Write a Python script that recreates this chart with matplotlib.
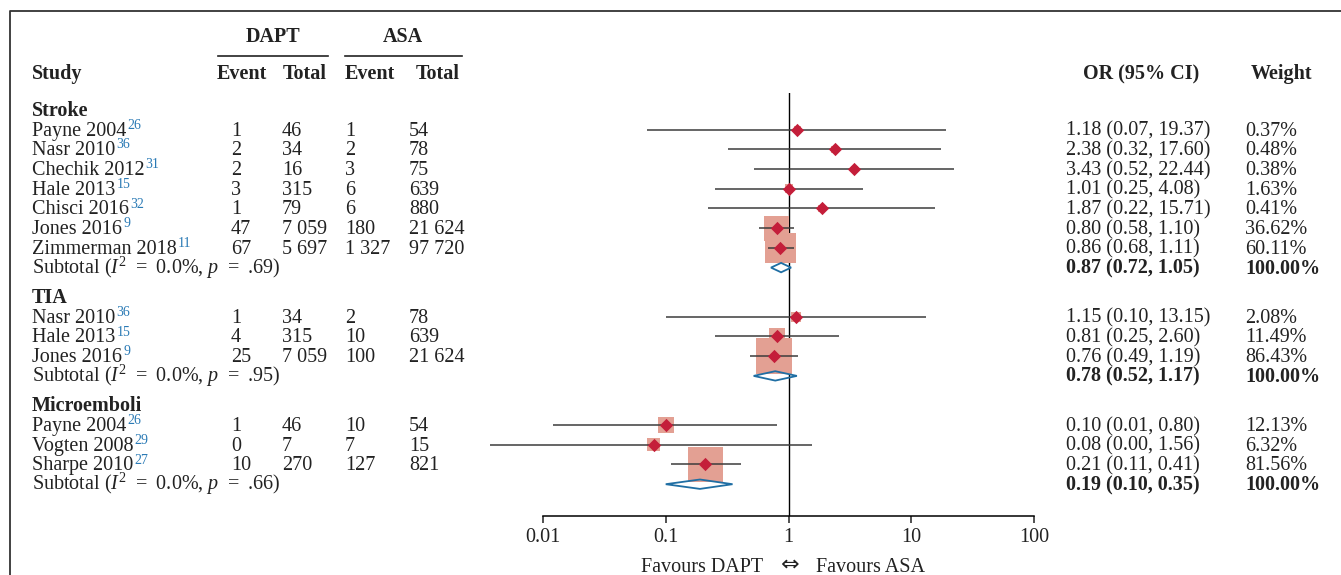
import matplotlib.pyplot as plt
from matplotlib.ticker import NullLocator

plt.rcParams['font.family'] = ['Liberation Serif', 'DejaVu Serif']
plt.rcParams['mathtext.fontset'] = 'custom'
plt.rcParams['mathtext.rm'] = 'Liberation Serif'
plt.rcParams['mathtext.it'] = 'Liberation Serif:italic'
plt.rcParams['mathtext.bf'] = 'Liberation Serif:bold'

# Dane z wykresu
groups = ['Stroke', 'TIA', 'Microemboli']
study_group = [0, 0, 0, 0, 0, 0, 0, 1, 1, 1, 2, 2, 2]
study_names = ['Payne 2004', 'Nasr 2010', 'Chechik 2012', 'Hale 2013', 'Chisci 2016',
               'Jones 2016', 'Zimmerman 2018', 'Nasr 2010', 'Hale 2013', 'Jones 2016',
               'Payne 2004', 'Vogten 2008', 'Sharpe 2010']
study_refs = ['26', '36', '31', '15', '32', '9', '11', '36', '15', '9', '26', '29', '27']
dapt_event = ['1', '2', '2', '3', '1', '47', '67', '1', '4', '25', '1', '0', '10']
dapt_total = ['46', '34', '16', '315', '79', '7 059', '5 697', '34', '315', '7 059',
              '46', '7', '270']
asa_event = ['1', '2', '3', '6', '6', '180', '1 327', '2', '10', '100', '10', '7', '127']
asa_total = ['54', '78', '75', '639', '880', '21 624', '97 720', '78', '639', '21 624',
             '54', '15', '821']
odds = [1.18, 2.38, 3.43, 1.01, 1.87, 0.80, 0.86, 1.15, 0.81, 0.76, 0.10, 0.08, 0.21]
ci_low = [0.07, 0.32, 0.52, 0.25, 0.22, 0.58, 0.68, 0.10, 0.25, 0.49, 0.012, 0.0037, 0.11]
ci_high = [19.37, 17.60, 22.44, 4.08, 15.71, 1.10, 1.11, 13.15, 2.60, 1.19, 0.80, 1.56, 0.41]
weights = [0.37, 0.48, 0.38, 1.63, 0.41, 36.62, 60.11, 2.08, 11.49, 86.43, 12.13, 6.32, 81.56]

sub_i2 = ['0.0%', '0.0%', '0.0%']
sub_p = ['.69', '.95', '.66']
sub_or = [0.87, 0.78, 0.19]
sub_low = [0.72, 0.52, 0.10]
sub_high = [1.05, 1.17, 0.35]

xticks = [0.01, 0.1, 1, 10, 100]
xtick_labels = ['0.01', '0.1', '1', '10', '100']

# Kolory
ci_color = '#3c3c3c'
box_color = '#e3a093'
point_color = '#c41e3a'
pool_color = '#1f6ea3'
ref_color = '#2a7ab5'
txt_color = '#222222'

W, H = 1341, 575
fig = plt.figure(figsize=(W / 100, H / 100), dpi=100)

# Oś tekstowa w pikselach
ax_t = fig.add_axes([0, 0, 1, 1])
ax_t.set_xlim(0, W)
ax_t.set_ylim(H, 0)
ax_t.axis('off')

# Oś wykresu (log)
ax = fig.add_axes([543 / W, (H - 516) / H, (1034 - 543) / W, (516 - 93) / H])
ax.set_xscale('log')
ax.set_xlim(0.01, 100)
ax.set_ylim(516, 93)
ax.patch.set_alpha(0)
for side in ['top', 'left', 'right']:
    ax.spines[side].set_visible(False)
ax.spines['bottom'].set_linewidth(1.1)
ax.set_xticks(xticks)
ax.set_xticklabels(xtick_labels)
ax.xaxis.set_minor_locator(NullLocator())
ax.set_yticks([])
ax.tick_params(axis='x', length=5, width=1.1, pad=4, labelsize=14.5, colors=txt_color)
ax.axvline(1, color='black', lw=1.0, zorder=0.5)

# Układ wierszy
step, gap = 19.7, 29.5
y = 110
head_y, row_y, sub_y = [], [], []
for g in range(len(groups)):
    head_y.append(y)
    for k in range(len(study_group)):
        if study_group[k] == g:
            y += step
            row_y.append(y)
    y += step
    sub_y.append(y)
    y += gap

fs = 14.5
base = 6  # przesunięcie linii bazowej względem środka wiersza

# Nagłówki
ax_t.text(273, 42, 'DAPT', ha='center', va='baseline', fontsize=fs, fontweight='bold', color=txt_color)
ax_t.text(403, 42, 'ASA', ha='center', va='baseline', fontsize=fs, fontweight='bold', color=txt_color)
ax_t.plot([218, 328], [55.5, 55.5], color=txt_color, lw=1.2)
ax_t.plot([345, 462], [55.5, 55.5], color=txt_color, lw=1.2)
for x, lab in [(217, 'Event'), (283, 'Total'), (345, 'Event'), (416, 'Total')]:
    ax_t.text(x, 79, lab, ha='left', va='baseline', fontsize=fs, fontweight='bold', color=txt_color)
ax_t.text(32, 79, 'Study', ha='left', va='baseline', fontsize=fs, fontweight='bold', color=txt_color)
ax_t.text(1141, 79, 'OR (95% CI)', ha='center', va='baseline', fontsize=fs, fontweight='bold', color=txt_color)
ax_t.text(1282, 79, 'Weight', ha='center', va='baseline', fontsize=fs, fontweight='bold', color=txt_color)

for g, name in enumerate(groups):
    ax_t.text(32, head_y[g] + base, name, ha='left', va='baseline', fontsize=fs,
              fontweight='bold', color=txt_color)

# Wiersze badań
for i, yy in enumerate(row_y):
    t = ax_t.text(32, yy + base, study_names[i], ha='left', va='baseline', fontsize=fs, color=txt_color)
    ax_t.annotate(study_refs[i], xy=(1, 0), xycoords=t, xytext=(0.8, 8.6), textcoords='offset points',
                  ha='left', va='baseline', fontsize=10, color=ref_color)
    for x, col in [(231, dapt_event), (282, dapt_total), (345, asa_event), (409, asa_total)]:
        ax_t.text(x, yy + base, col[i], ha='left', va='baseline', fontsize=fs, color=txt_color)
    ax_t.text(1066, yy + base, f'{odds[i]:.2f} ({ci_low[i]:.2f}, {ci_high[i]:.2f})',
              ha='left', va='baseline', fontsize=fs, color=txt_color)
    ax_t.text(1245, yy + base, f'{weights[i]:.2f}%', ha='left', va='baseline', fontsize=fs, color=txt_color)

# Podsumowania grup
eq = ' \u2009=\u2009 '
for g, yy in enumerate(sub_y):
    ax_t.text(32, yy + base, 'Subtotal ($I^2$' + eq + sub_i2[g] + ', $p$' + eq + sub_p[g] + ')',
              ha='left', va='baseline', fontsize=fs, color=txt_color)
    ax_t.text(1066, yy + base, f'{sub_or[g]:.2f} ({sub_low[g]:.2f}, {sub_high[g]:.2f})',
              ha='left', va='baseline', fontsize=fs, fontweight='bold', color=txt_color)
    ax_t.text(1245, yy + base, '100.00%', ha='left', va='baseline', fontsize=fs,
              fontweight='bold', color=txt_color)

# Kwadraty wag, przedziały ufności, punkty
sizes = [((4.6 + 3.37 * w ** 0.5) * 0.72) ** 2 for w in weights]
ax.scatter(odds, row_y, s=sizes, marker='s', color=box_color, linewidths=0, zorder=1, clip_on=False)
ax.hlines(row_y, ci_low, ci_high, color=ci_color, lw=1.1, zorder=3, clip_on=False)
ax.scatter(odds, row_y, s=46, marker='D', color=point_color, linewidths=0, zorder=4, clip_on=False)

for g, yy in enumerate(sub_y):
    ax.fill([sub_low[g], sub_or[g], sub_high[g], sub_or[g]], [yy, yy - 4.7, yy, yy + 4.7],
            facecolor='none', edgecolor=pool_color, lw=1.3, zorder=5, clip_on=False)

# Opis osi
ax_t.text(763, 572, 'Favours DAPT', ha='right', va='baseline', fontsize=fs, color=txt_color)
ax_t.text(790, 571, '\u21d4', ha='center', va='baseline', fontsize=16, family='DejaVu Sans',
          color=txt_color)
ax_t.text(816, 572, 'Favours ASA', ha='left', va='baseline', fontsize=fs, color=txt_color)

# Ramka
ax_t.plot([10.5, 10.5, W], [H, 10.5, 10.5], color='#333333', lw=1.3)

fig.savefig('out.png', dpi=100)
